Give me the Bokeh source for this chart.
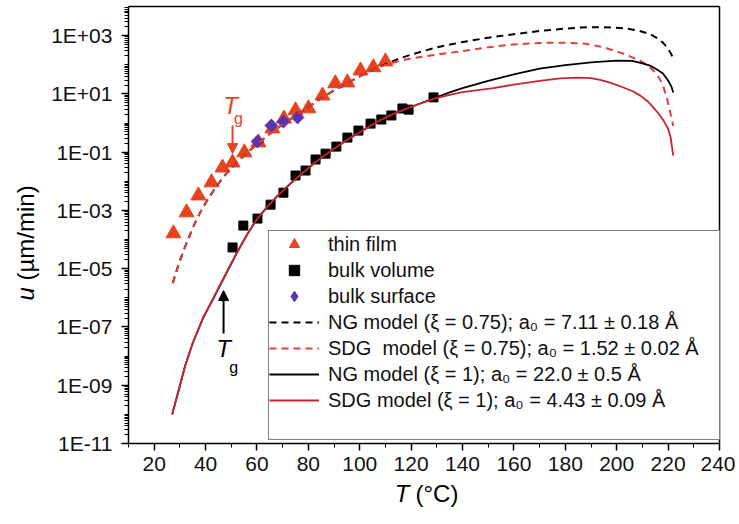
import math
from bokeh.plotting import figure
from bokeh.models import (FixedTicker, CustomJSTickFormatter, Legend, LegendItem,
                          Label, Arrow, NormalHead, LinearAxis, LogAxis)
from bokeh.embed import file_html
from bokeh.resources import INLINE

FONT = "Liberation Sans"

# ---------------- data ----------------
# thin film (red triangles)
film_T = [27.5, 32.6, 37.2, 42.3, 46.6, 50.5, 55.1, 60.6, 66.0, 70.5, 75.0, 80.0,
          85.5, 90.5, 95.2, 100.3, 105.3, 110.0]
film_u = [1.62e-4, 8.51e-4, 3.24e-3, 9.12e-3, 2.95e-2, 4.37e-2, 9.77e-2, 2.14e-1,
          6.46e-1, 1.41, 2.69, 3.16, 8.71, 22.9, 24.5, 63.1, 81.3, 129]

# bulk volume (black squares)
vol_T = [50.5, 54.7, 60.2, 65.3, 70.3, 75.0, 78.9, 82.8, 86.7, 90.9, 95.2, 99.5,
         104.2, 108.4, 112.3, 116.6, 119.0, 128.7]
vol_u = [5.37e-5, 3.02e-4, 5.25e-4, 1.58e-3, 4.07e-3, 1.58e-2, 2.34e-2, 5.62e-2,
         8.91e-2, 1.55e-1, 3.16e-1, 5.50e-1, 9.55e-1, 1.32, 1.82, 3.16, 2.88, 7.59]

# bulk surface (purple diamonds)
surf_T = [60.2, 65.6, 70.3, 75.8]
surf_u = [0.234, 0.822, 1.12, 1.55]

# NG model xi = 0.75 (black dashed)
ng075_T = [27.2, 29.5, 32, 35, 38, 41, 44, 47, 50, 54, 58, 62, 66, 70, 75, 80, 85,
           90, 95, 100, 105, 110, 115, 120, 130, 140, 150, 160, 170, 180, 186, 192,
           198, 204, 209, 213, 216, 218, 220, 221.3, 222]
ng075_u = [3.16e-6, 1.41e-5, 5.62e-5, 2.51e-4, 8.91e-4, 2.51e-3, 6.31e-3, 1.41e-2,
           2.82e-2, 6.31e-2, 1.32e-1, 2.63e-1, 5.01e-1, 8.91e-1, 1.78, 3.55, 7.08,
           13.2, 23.4, 39.8, 66.1, 105, 158, 224, 398, 603, 851, 1122, 1445, 1738,
           1905, 1950, 1905, 1738, 1445, 1122, 794, 575, 355, 224, 158]

# SDG model xi = 0.75 (red dashed)
sdg075_T = [27.2, 29.5, 32, 35, 38, 41, 44, 47, 50, 54, 58, 62, 66, 70, 75, 80, 85,
            90, 95, 100, 105, 110, 115, 120, 130, 140, 150, 160, 170, 180, 188, 195,
            202, 209, 212, 214.5, 216.5, 218, 219.7, 221, 222]
sdg075_u = [3.16e-6, 1.41e-5, 5.62e-5, 2.51e-4, 8.91e-4, 2.51e-3, 6.31e-3, 1.41e-2,
            2.82e-2, 6.31e-2, 1.32e-1, 2.63e-1, 5.01e-1, 8.91e-1, 1.78, 3.55, 7.08,
            13.2, 23.4, 39.8, 66.1, 100, 132, 166, 224, 295, 398, 501, 562, 575, 525,
            398, 251, 141, 95.5, 60.3, 35.5, 20.0, 6.31, 2.0, 0.794]

# NG model xi = 1 (black solid)
ng1_T = [27, 29.5, 32, 35, 39, 44, 48.5, 52.5, 56, 60, 64, 68, 73, 78, 83, 87, 91,
         95, 100, 104, 108, 112, 117, 122, 129, 135, 140, 150, 160, 170, 180, 190,
         200, 206, 210, 213, 216, 218, 220, 221.3, 222]
ng1_u = [1.0e-10, 6.61e-10, 4.47e-9, 2.82e-8, 2.0e-7, 1.41e-6, 8.32e-6, 3.98e-5,
         1.41e-4, 5.01e-4, 1.32e-3, 3.16e-3, 8.32e-3, 2.0e-2, 4.68e-2, 8.51e-2,
         1.51e-1, 2.63e-1, 4.79e-1, 7.94e-1, 1.26, 1.86, 2.82, 4.17, 7.24, 11.2,
         15.8, 28.2, 46.8, 74.1, 97.7, 120, 138, 135, 112, 93.3, 66.1, 50.1, 28.8,
         17.8, 11.2]

# SDG model xi = 1 (red solid)
sdg1_T = [27, 29.5, 32, 35, 39, 44, 48.5, 52.5, 56, 60, 64, 68, 73, 78, 83, 87, 91,
          95, 100, 104, 108, 112, 117, 122, 129, 135, 140, 152, 160, 170, 178, 185,
          190, 194, 198, 202.6, 206, 209.2, 212, 214.3, 216.5, 218.2, 220, 221, 222]
sdg1_u = [1.0e-10, 6.61e-10, 4.47e-9, 2.82e-8, 2.0e-7, 1.41e-6, 8.32e-6, 3.98e-5,
          1.41e-4, 5.01e-4, 1.32e-3, 3.16e-3, 8.32e-3, 2.0e-2, 4.68e-2, 8.51e-2,
          1.51e-1, 2.63e-1, 4.79e-1, 7.94e-1, 1.26, 1.86, 2.82, 4.17, 6.92, 9.33,
          11.5, 15.8, 20.9, 28.2, 33.9, 36.3, 34.7, 29.5, 23.4, 16.6, 12.6, 8.71,
          5.62, 3.39, 2.0, 1.23, 0.631, 0.316, 0.0759]

# glass transitions marked by arrows
tg_bulk = 47.0
tg_film = 50.5

x_major = [20, 40, 60, 80, 100, 120, 140, 160, 180, 200, 220, 240]
x_minor = [10, 30, 50, 70, 90, 110, 130, 150, 170, 190, 210, 230]
y_major = [1e-11, 1e-9, 1e-7, 1e-5, 1e-3, 1e-1, 1e1, 1e3]
y_minor = [k * 10.0 ** n for n in range(-11, 4) for k in range(1, 10)
           if not (k == 1 and n % 2 != 0)]

labels = ["thin film", "bulk volume", "bulk surface",
          "NG model (\u03be = 0.75); a\u2080 = 7.11 \u00b1 0.18 \u00c5",
          "SDG  model (\u03be = 0.75); a\u2080 = 1.52 \u00b1 0.02 \u00c5",
          "NG model (\u03be = 1); a\u2080 = 22.0 \u00b1 0.5 \u00c5",
          "SDG model (\u03be = 1); a\u2080 = 4.43 \u00b1 0.09 \u00c5"]

# axes box in data units
X0, X1 = 10, 240
Y0, Y1 = 1e-11, 1e4

# ---------------- figure ----------------
# The frame fills the whole canvas; the visible axes are drawn at fixed data
# locations so that texts outside the axes box are not clipped.
W, H = 735, 520
p = figure(width=W, height=H, x_range=(-39.81, 246.23),
           y_range=(10 ** -13.643, 10 ** 4.206), y_axis_type="log",
           x_axis_location=None, y_axis_location=None,
           output_backend="svg", toolbar_location=None,
           min_border=0)
p.grid.visible = False
p.outline_line_color = None
p.background_fill_color = "white"
p.border_fill_color = "white"

xax = LinearAxis(fixed_location=Y0, bounds=(X0, X1),
                 ticker=FixedTicker(ticks=x_major, minor_ticks=x_minor))
yax = LogAxis(fixed_location=X0, bounds=(Y0, Y1),
              ticker=FixedTicker(ticks=y_major, minor_ticks=y_minor))
yax.formatter = CustomJSTickFormatter(code="""
const e = Math.round(Math.log10(tick));
const a = Math.abs(e);
return "1E" + (e < 0 ? "-" : "+") + (a < 10 ? "0" : "") + a;
""")
for ax in (xax, yax):
    ax.axis_line_color = "black"
    ax.axis_line_width = 1.5
    ax.major_tick_line_color = "black"
    ax.minor_tick_line_color = "black"
    ax.major_tick_line_width = 1.5
    ax.minor_tick_line_width = 1
    ax.major_tick_out = 7
    ax.major_tick_in = 0
    ax.minor_tick_out = 4
    ax.minor_tick_in = 0
    ax.major_label_text_font = FONT
    ax.major_label_text_font_size = "21px"
    ax.major_label_text_color = "#111111"
xax.major_label_standoff = 6
yax.major_label_standoff = 9
p.add_layout(xax, "below")
p.add_layout(yax, "left")

# top and right edges of the axes box
top_ax = LinearAxis(fixed_location=Y1, bounds=(X0, X1),
                    ticker=FixedTicker(ticks=[], minor_ticks=[]),
                    axis_line_color="black", axis_line_width=1.5)
right_ax = LogAxis(fixed_location=X1, bounds=(Y0, Y1),
                   ticker=FixedTicker(ticks=[], minor_ticks=[]),
                   axis_line_color="black", axis_line_width=1.5)
p.add_layout(top_ax, "above")
p.add_layout(right_ax, "right")

RED_M = "#e8431f"
PURPLE = "#5833b0"
RED_SOLID = "#c8262c"
RED_DASH = "#e0403c"

r_film = p.scatter(film_T, film_u, marker="triangle", size=15, fill_color=RED_M,
                   line_color=RED_M)
r_vol = p.scatter(vol_T, vol_u, marker="square", size=9, fill_color="black",
                  line_color="black")
# diamond-shaped key for the legend (sits fully under the rotated squares)
r_surf_key = p.scatter(surf_T, surf_u, marker="diamond", size=12,
                       fill_color=PURPLE, line_color=PURPLE)
r_surf = p.scatter(surf_T, surf_u, marker="square", size=9, angle=math.pi / 4,
                   fill_color=PURPLE, line_color=PURPLE)

r_ng075 = p.line(ng075_T, ng075_u, line_color="black", line_width=2, line_dash="7 5")
r_sdg075 = p.line(sdg075_T, sdg075_u, line_color=RED_DASH, line_width=2, line_dash="7 5")
r_ng1 = p.line(ng1_T, ng1_u, line_color="black", line_width=1.8)
r_sdg1 = p.line(sdg1_T, sdg1_u, line_color=RED_SOLID, line_width=1.8)
r_blank = p.line(ng1_T, ng1_u, line_alpha=0)

items = [LegendItem(label=lab, renderers=[r]) for lab, r in
         zip(labels, [r_film, r_vol, r_surf_key, r_ng075, r_sdg075, r_ng1, r_sdg1])]
items.append(LegendItem(label=" ", renderers=[r_blank]))
legend = Legend(items=items, location=(268, 80), padding=0, margin=0, spacing=0,
                glyph_width=50, glyph_height=26, label_height=26, label_standoff=9,
                label_width=391, label_text_font=FONT, label_text_font_size="20px",
                label_text_color="#111111", border_line_color="black",
                border_line_width=1, background_fill_color="white",
                background_fill_alpha=1)
p.add_layout(legend)

# Tg arrows and labels
p.add_layout(Arrow(end=NormalHead(size=10, fill_color="black", line_color="black"),
                   x_start=tg_bulk, y_start=10 ** -7.22, x_end=tg_bulk, y_end=10 ** -5.75,
                   line_color="black", line_width=2))
p.add_layout(Label(x=tg_bulk, y=10 ** -7.74, text="T", text_font=FONT,
                   text_font_style="italic", text_font_size="24px", text_color="black",
                   text_align="center", text_baseline="middle"))
p.add_layout(Label(x=tg_bulk + 3.9, y=10 ** -8.39, text="g", text_font=FONT,
                   text_font_size="16px", text_color="black",
                   text_align="center", text_baseline="middle"))

p.add_layout(Arrow(end=NormalHead(size=10, fill_color=RED_M, line_color=RED_M),
                   x_start=tg_film, y_start=10 ** -0.085, x_end=tg_film, y_end=10 ** -1.05,
                   line_color=RED_M, line_width=2))
p.add_layout(Label(x=tg_film - 0.8, y=10 ** 0.60, text="T", text_font=FONT,
                   text_font_style="italic", text_font_size="24px", text_color=RED_M,
                   text_align="center", text_baseline="middle"))
p.add_layout(Label(x=tg_film + 2.3, y=10 ** 0.16, text="g", text_font=FONT,
                   text_font_size="16px", text_color=RED_M,
                   text_align="center", text_baseline="middle"))

# axis titles (screen units: from the canvas' bottom-left corner)
p.add_layout(Label(x=409, y=27, x_units="screen", y_units="screen", text="T",
                   text_font=FONT, text_font_style="italic", text_font_size="24px",
                   text_color="black", text_align="right", text_baseline="middle"))
p.add_layout(Label(x=415, y=27, x_units="screen", y_units="screen", text="(\u00b0C)",
                   text_font=FONT, text_font_size="24px", text_color="black",
                   text_align="left", text_baseline="middle"))
p.add_layout(Label(x=25, y=220, x_units="screen", y_units="screen", text="u",
                   text_font=FONT, text_font_style="italic", text_font_size="24px",
                   text_color="black", text_align="left", text_baseline="middle",
                   angle=math.pi / 2))
p.add_layout(Label(x=25, y=240, x_units="screen", y_units="screen",
                   text="(\u00b5m/min)", text_font=FONT, text_font_size="24px",
                   text_color="black", text_align="left", text_baseline="middle",
                   angle=math.pi / 2))

open("out.html", "w").write(file_html(p, INLINE))
